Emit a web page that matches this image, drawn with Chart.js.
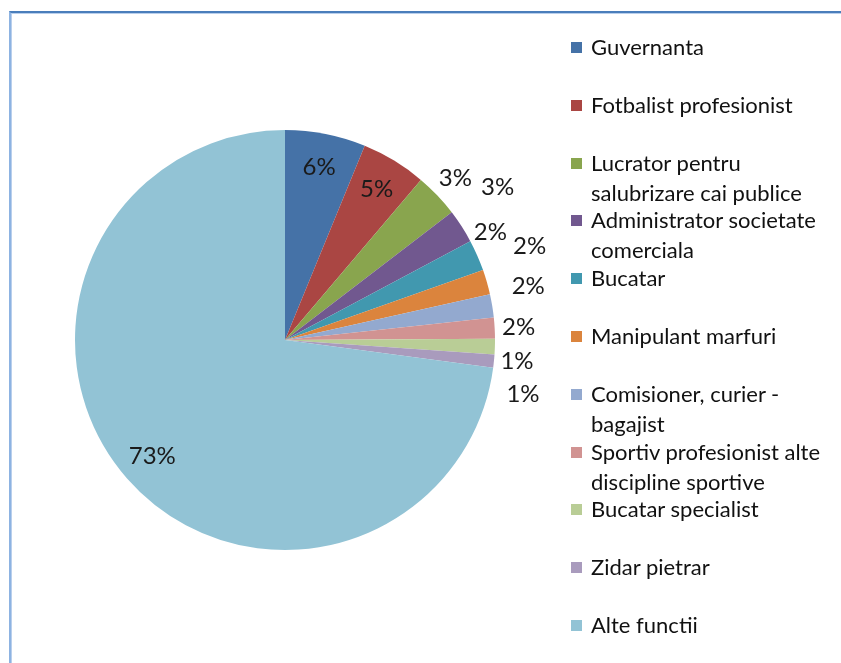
<!DOCTYPE html>
<html>
<head>
<meta charset="utf-8">
<script src="https://cdn.jsdelivr.net/npm/chart.js@4/dist/chart.umd.min.js"></script>
<style>
  html, body { margin: 0; padding: 0; background: #fff; overflow: hidden; }
  body { width: 841px; height: 663px; position: relative; font-family: Lato, 'Noto Sans', sans-serif; }
  .frame {
    position: absolute; left: 9px; top: 11px; width: 900px; height: 700px;
    border-top: 2px solid #4a7ebb; border-left: 2px solid #8db3e2;
    box-shadow: inset 1px 1px 0 #b9cfec;
  }
  #wrap { position: absolute; left: 0; top: 0; width: 841px; height: 663px; }
  .legend { position: absolute; left: 571px; top: 32px; margin: 0; padding: 0; list-style: none; }
  .legend li { display: flex; align-items: flex-start; height: 57.8px; font-size: 22px; line-height: 30px; color: #111; }
  .legend .sw { width: 11px; height: 11px; margin: 10px 9px 0 0; flex: none; }
</style>
</head>
<body>
<div class="frame"></div>
<div id="wrap"><canvas id="c" width="841" height="663"></canvas></div>
<ul class="legend" id="legend"></ul>
<script>
// ── data ─────────────────────────────────────────────────────────
const CATEGORIES = [
  'Guvernanta',
  'Fotbalist profesionist',
  ['Lucrator pentru', 'salubrizare cai publice'],
  ['Administrator societate', 'comerciala'],
  'Bucatar',
  'Manipulant marfuri',
  ['Comisioner, curier -', 'bagajist'],
  ['Sportiv profesionist alte', 'discipline sportive'],
  'Bucatar specialist',
  'Zidar pietrar',
  'Alte functii',
];
const SHARES = [6.2, 5.0, 3.4, 2.6, 2.4, 1.9, 1.8, 1.6, 1.2, 1.0, 72.9];

const COLORS = [
  '#4572a7', '#aa4643', '#89a54e', '#71588f', '#4198af', '#db843d',
  '#93a9cf', '#d19392', '#b9cd96', '#a99bbd', '#92c3d5',
];

// small slices get their label outside the rim, staggered like Excel's "best fit"
const LABEL_PAD   = [0, 0, 25, 52, 22, 52, 39, 24, 23, 34, 0];   // px beyond rim
const LABEL_SHIFT = [0, 0, 0, -3, -4, -5, -3, 0, 3.5, 7, 0];     // degrees off mid-angle

// ── percentage labels ────────────────────────────────────────────
const pctLabels = {
  id: 'pctLabels',
  afterDatasetsDraw(chart) {
    const { ctx } = chart;
    const meta = chart.getDatasetMeta(0);
    const data = chart.data.datasets[0].data;
    const total = data.reduce((a, b) => a + b, 0);
    ctx.save();
    ctx.font = '24px Lato, "Noto Sans", sans-serif';
    ctx.fillStyle = '#1a1a1a';
    ctx.textAlign = 'center';
    ctx.textBaseline = 'middle';
    meta.data.forEach((arc, i) => {
      const p = arc.getProps(['x', 'y', 'startAngle', 'endAngle', 'outerRadius'], true);
      const mid = (p.startAngle + p.endAngle) / 2 + LABEL_SHIFT[i] * Math.PI / 180;
      const share = data[i] / total;
      const r = share >= 0.045 ? p.outerRadius * 0.84 : p.outerRadius + LABEL_PAD[i];
      const x = p.x + Math.cos(mid) * r;
      const y = p.y + Math.sin(mid) * r;
      ctx.fillText(Math.round(share * 100) + '%', x, y);
    });
    ctx.restore();
  }
};

const chart = new Chart(document.getElementById('c'), {
  type: 'pie',
  data: {
    labels: CATEGORIES,
    datasets: [{
      data: SHARES,
      backgroundColor: COLORS,
      borderWidth: 0,
    }]
  },
  options: {
    responsive: false,
    animation: false,
    layout: { padding: { left: 75, top: 130, right: 346, bottom: 113 } },
    plugins: {
      legend: { display: false },
      tooltip: { enabled: false },
    },
  },
  plugins: [pctLabels],
});

// ── HTML legend built from the chart's own legend items ───────────
const items = Chart.overrides.pie.plugins.legend.labels.generateLabels(chart);
const ul = document.getElementById('legend');
items.forEach(it => {
  const li = document.createElement('li');
  const sw = document.createElement('span');
  sw.className = 'sw';
  sw.style.background = it.fillStyle;
  const txt = document.createElement('span');
  txt.innerHTML = [].concat(it.text).join('<br>');
  li.appendChild(sw);
  li.appendChild(txt);
  ul.appendChild(li);
});
</script>
</body>
</html>
